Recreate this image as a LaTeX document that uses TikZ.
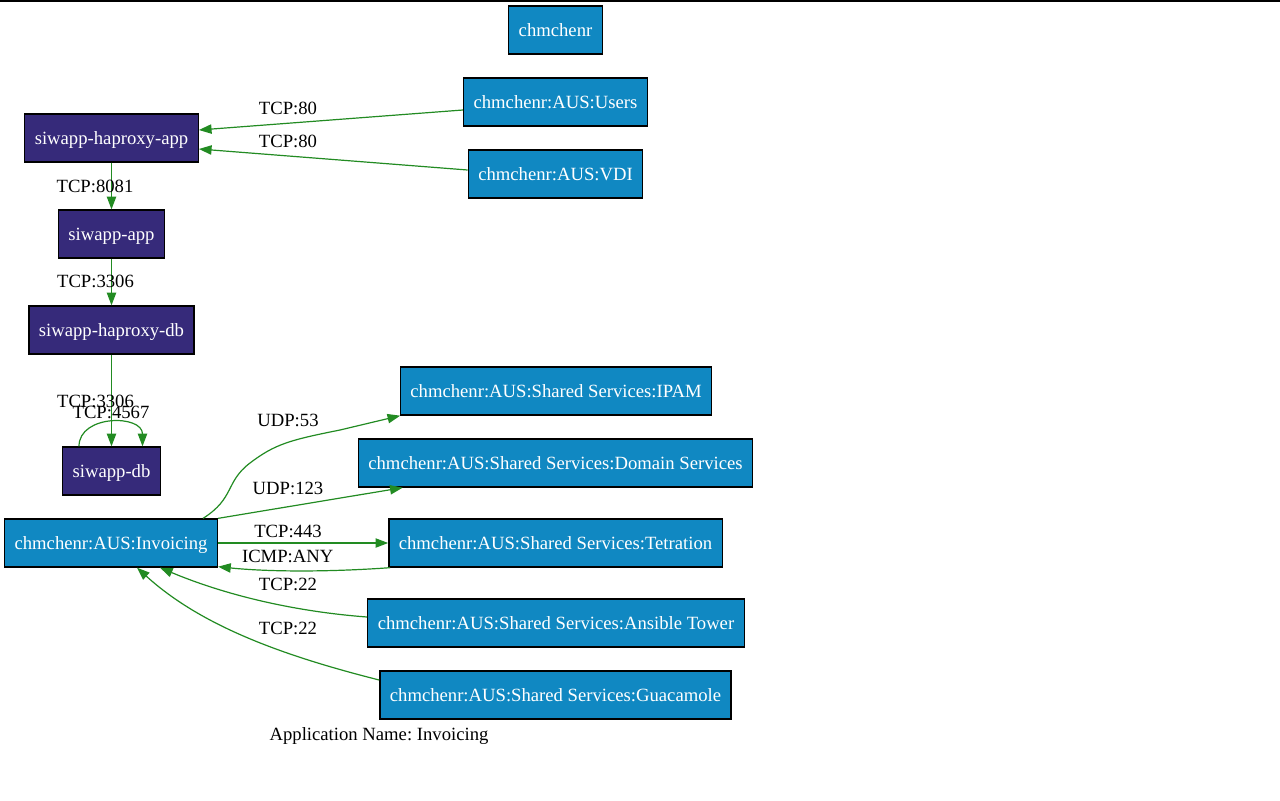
\documentclass[tikz,border=0pt]{standalone}
\usepackage{fontspec}
\setmainfont{Liberation Serif}
\usetikzlibrary{calc}
\usetikzlibrary{arrows.meta}

\definecolor{svcblue}{RGB}{16,136,194}
\definecolor{apppurple}{RGB}{54,42,122}
\definecolor{flowgreen}{RGB}{34,139,34}

\frenchspacing

\begin{document}
\begin{tikzpicture}[
		x=0.75pt,
		y=-0.75pt,
		every node/.append style={font=\fontsize{14}{16}\selectfont},
		app_box/.style={
			draw=black,
			fill=apppurple,
			text=white,
			rectangle,
			line width=1pt,
			minimum height=36pt,
			inner xsep=7.5pt,
			text height=11pt,
			text depth=2pt},
		scope_box/.style={
			draw=black,
			fill=svcblue,
			text=white,
			rectangle,
			line width=1pt,
			minimum height=36pt,
			inner xsep=7.5pt,
			text height=11pt,
			text depth=2pt},
		flow/.style={
			draw=flowgreen,
			line width=0.9pt,
			-{Triangle[length=9.5pt,width=7pt]}},
		flow_label/.style={
			text=black,
			inner sep=0pt},
		]

		\useasboundingbox (0,0) rectangle (1280,800);
		\fill[black] (0,0) rectangle (1280,2);

		%Scopes
		\node (root)[scope_box] at (555.5,30) {chmchenr};
		\node (users)[scope_box] at (555.5,102) {chmchenr:AUS:Users};
		\node (vdi)[scope_box] at (555.5,174) {chmchenr:AUS:VDI};

		%Application tiers
		\node (haapp)[app_box] at (111.5,138) {siwapp-haproxy-app};
		\node (appsrv)[app_box] at (111.5,234) {siwapp-app};
		\node (hadb)[app_box] at (111.5,330) {siwapp-haproxy-db};
		\node (db)[app_box] at (111.5,471) {siwapp-db};

		%Invoicing and shared services
		\node (inv)[scope_box] at (111,543) {chmchenr:AUS:Invoicing};
		\node (ipam)[scope_box] at (556,391) {chmchenr:AUS:Shared Services:IPAM};
		\node (dom)[scope_box] at (555.5,463) {chmchenr:AUS:Shared Services:Domain Services};
		\node (tet)[scope_box] at (555.5,543) {chmchenr:AUS:Shared Services:Tetration};
		\node (ans)[scope_box] at (556,623) {chmchenr:AUS:Shared Services:Ansible Tower};
		\node (gua)[scope_box] at (555.5,695) {chmchenr:AUS:Shared Services:Guacamole};

		%Flows into the app tiers
		\draw[flow] ($(users.west)+(0,8)$) -- ($(haapp.east)+(0,-8)$) node[flow_label] at (288,108.7) {TCP:80};
		\draw[flow] ($(vdi.west)+(0,-4)$) -- ($(haapp.east)+(0,11)$) node[flow_label] at (288,141) {TCP:80};
		\draw[flow] (haapp.south) -- (appsrv.north) node[flow_label] at (95,186) {TCP:8081};
		\draw[flow] (appsrv.south) -- (hadb.north) node[flow_label] at (95.5,281.7) {TCP:3306};
		\draw[flow] (hadb.south) -- (db.north) node[flow_label] at (95.5,401.5) {TCP:3306};
		\draw[flow] ($(db.north)+(-32.5,0)$) .. controls ($(db.north)+(-32.5,-32)$) and ($(db.north)+(31,-32)$) .. ($(db.north)+(31,0)$) node[flow_label] at (111,412) {TCP:4567};

		%Flows to shared services
		\draw[flow] (inv.15) .. controls (235,498) and (225,482) .. (250,463) .. controls (275,444) and (290,440) .. (340,430) -- (ipam.189) node[flow_label] at (288,420) {UDP:53};
		\draw[flow] (inv.north east) -- ($(dom.south west)+(45,0)$) node[flow_label] at (288,488) {UDP:123};
		\draw[flow] (inv.east) -- (tet.west) node[flow_label] at (288,531.7) {TCP:443};
		\draw[flow] ($(tet.south west)+(2,0)$) .. controls (330,572) and (270,572) .. ($(inv.south east)+(0,-1)$) node[flow_label] at (287.7,556) {ICMP:ANY};
		\draw[flow] ($(ans.west)+(0,-6)$) .. controls (300,612) and (230,597) .. ($(inv.south)+(49,0)$) node[flow_label] at (288,584.5) {TCP:22};
		\draw[flow] ($(gua.west)+(0,-15)$) .. controls (280,655) and (200,625) .. ($(inv.south)+(26,0)$) node[flow_label] at (288,628) {TCP:22};

		%Title
		\node (title)[anchor=base] at (379,740) {Application Name: Invoicing};

	\end{tikzpicture}
\end{document}
